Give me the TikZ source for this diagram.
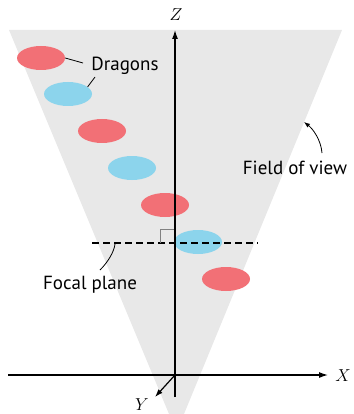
\documentclass[tikz,border=0pt]{standalone}
\usepackage{fontspec}
\setmainfont{PT Sans}
\usetikzlibrary{positioning,arrows.meta,shapes.geometric}
\definecolor{DragonRed}{RGB}{242,112,118}
\definecolor{DragonBlue}{RGB}{140,212,236}
\definecolor{ViewGray}{RGB}{232,232,232}
\tikzset{
    dragon/.style={ellipse,minimum width=48pt,minimum height=24pt,inner sep=0pt},
    lbl/.style={font=\fontsize{19}{22}\selectfont,inner sep=0pt},
    axislbl/.style={font=\fontsize{16}{19}\selectfont,inner sep=0pt},
    leader/.style={line width=0.8pt},
    axisline/.style={-{Latex[length=9pt,width=6pt]},line width=1.2pt},
    focal/.style={line width=1.3pt,dash pattern=on 7pt off 4pt},
}

\begin{document}
\begin{tikzpicture}[x=1pt,y=-1pt]
    \useasboundingbox (0,0) rectangle (353,414);
    % field of view
    \fill[ViewGray] (9,30) -- (342,30) -- (184,414) -- (169,414) -- cycle;
    % dragons
    \foreach \i/\x/\y/\c in {1/41/58/DragonRed,2/68/94/DragonBlue,3/102/131/DragonRed,
        4/132/168/DragonBlue,5/165/205/DragonRed,6/198/242/DragonBlue,7/226/279/DragonRed}
        \node[dragon,fill=\c] (d\i) at (\x,\y) {};
    % focal plane and right angle
    \coordinate (fpl) at (92,243);
    \coordinate (fpr) at (258,243);
    \draw[focal] (fpl) -- (fpr);
    \draw[gray,line width=1pt] (160,243) -- (160,229) -- (175,229);
    % axes
    \coordinate (O) at (175,375);
    \coordinate (zb) at (175,397);
    \coordinate (zt) at (175,30);
    \coordinate (xl) at (8,375);
    \coordinate (xr) at (328,375);
    \coordinate (ye) at (155,397);
    \draw[axisline] (zb) -- (zt);
    \draw[axisline] (xl) -- (xr);
    \draw[-{Latex[length=8pt,width=5.5pt]},line width=1.2pt] (O) -- (ye);
    \node[axislbl] (zlbl) at (176,15) {$Z$};
    \node[axislbl] (xlbl) at (343,376) {$X$};
    \node[axislbl] (ylbl) at (142,405) {$Y$};
    % labels
    \node[lbl,anchor=base] (dragons) at (125,71) {Dragons};
    \coordinate (dtip1) at (83,63);
    \coordinate (dtip2) at (95,77);
    \draw[leader] (d1.east) -- (dtip1);
    \draw[leader] (d2.20) -- (dtip2);
    \node[lbl,anchor=base] (fov) at (295,174) {Field of view};
    \coordinate (fovtail) at (322,153);
    \coordinate (fovtip) at (304,122);
    \draw[leader,-{Latex[length=6pt,width=4.5pt]}] (fovtail) .. controls (321,140) and (313,129) .. (fovtip);
    \node[lbl,anchor=base] (focallbl) at (90,289) {Focal plane};
    \coordinate (fptail) at (100,270);
    \coordinate (fptip) at (115,244);
    \draw[leader] (fptail) .. controls (108,262) and (114,252) .. (fptip);
\end{tikzpicture}
\end{document}
